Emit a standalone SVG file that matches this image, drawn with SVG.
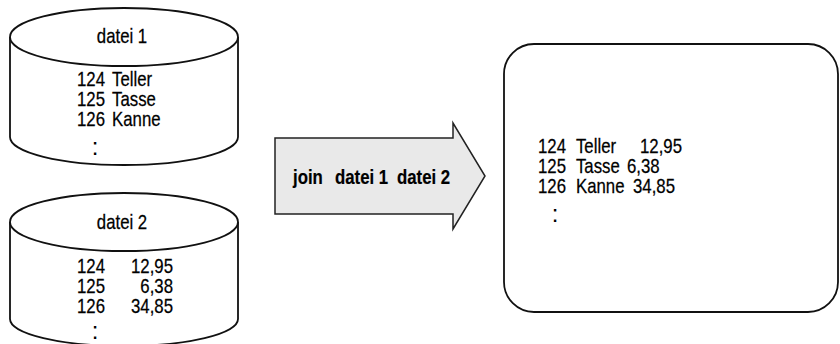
<svg xmlns="http://www.w3.org/2000/svg" width="840" height="344" viewBox="0 0 840 344">
<style>
  .bg { fill: #fff; stroke: #111; stroke-width: 1.8; }
  .t { font-family: "Liberation Sans", Arial, sans-serif; font-size: 20px; fill: #000; stroke: #000; stroke-width: 0.25; }
  .c { text-anchor: middle; }
  .b { font-weight: bold; stroke-width: 0.2; }
  .dots { font-family: "Liberation Sans", sans-serif; font-size: 24px; fill: #000; text-anchor: middle; }
</style>
<rect width="840" height="344" fill="#fff"/>
<g id="datei1">
  <path class="bg" d="M10,37 L10,137 A114,28 0 0 0 238,137 L238,37"/>
  <ellipse class="bg" cx="124" cy="37" rx="114" ry="29"/>
  <text class="t c" transform="translate(122,43) scale(0.84,1)">datei 1</text>
  <text class="t" transform="translate(77,86) scale(0.84,1)"><tspan x="0">124</tspan><tspan x="41.7">Teller</tspan></text>
  <text class="t" transform="translate(77,106) scale(0.84,1)"><tspan x="0">125</tspan><tspan x="41.7">Tasse</tspan></text>
  <text class="t" transform="translate(77,126) scale(0.84,1)"><tspan x="0">126</tspan><tspan x="41.7">Kanne</tspan></text>
  <text class="dots" x="95" y="155">:</text>
</g>
<g id="datei2">
  <path class="bg" d="M10,222 L10,319 A114,27 0 0 0 238,319 L238,222"/>
  <ellipse class="bg" cx="124" cy="222" rx="114" ry="29"/>
  <text class="t c" transform="translate(122,229) scale(0.84,1)">datei 2</text>
  <text class="t" transform="translate(77,273) scale(0.84,1)"><tspan x="0">124</tspan><tspan x="64.3">12,95</tspan></text>
  <text class="t" transform="translate(77,293) scale(0.84,1)"><tspan x="0">125</tspan><tspan x="75.4">6,38</tspan></text>
  <text class="t" transform="translate(77,313) scale(0.84,1)"><tspan x="0">126</tspan><tspan x="64.3">34,85</tspan></text>
  <text class="dots" x="95" y="339">:</text>
</g>
<g id="join">
  <polygon points="275,138 453,138 453,123 485,176 453,229 453,214 275,214" fill="#e9e9e9" stroke="#222" stroke-width="1.5"/>
  <text class="t b" transform="translate(293,184) scale(0.84,1)"><tspan x="0">join</tspan><tspan x="50">datei 1</tspan><tspan x="123.8">datei 2</tspan></text>
</g>
<g id="ergebnis">
  <rect class="bg" x="504" y="44" width="334" height="268" rx="30" ry="30"/>
  <text class="t" transform="translate(538,153) scale(0.84,1)"><tspan x="0">124</tspan><tspan x="45.2">Teller</tspan><tspan x="121.4">12,95</tspan></text>
  <text class="t" transform="translate(538,173) scale(0.84,1)"><tspan x="0">125</tspan><tspan x="45.2">Tasse</tspan><tspan x="106">6,38</tspan></text>
  <text class="t" transform="translate(538,193) scale(0.84,1)"><tspan x="0">126</tspan><tspan x="45.2">Kanne</tspan><tspan x="113.1">34,85</tspan></text>
  <text class="dots" x="555" y="222">:</text>
</g>
<g id="connectors"></g>
</svg>
